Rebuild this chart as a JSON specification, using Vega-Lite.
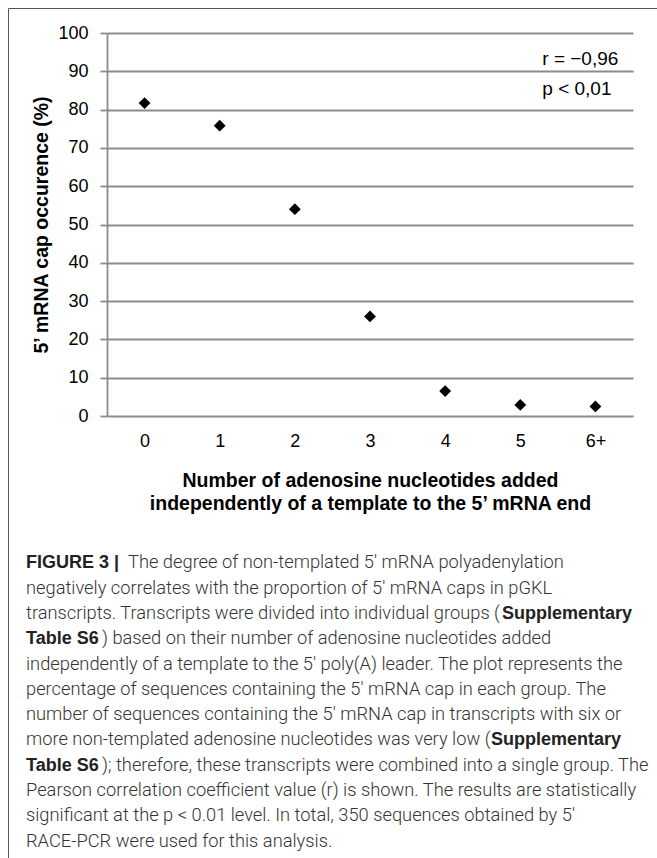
{
  "$schema": "https://vega.github.io/schema/vega-lite/v6.json",
  "autosize": {"type": "none"},
  "width": 526,
  "height": 383,
  "padding": {"left": 107, "top": 33, "right": 24, "bottom": 442},
  "background": "white",
  "config": {
    "view": {"stroke": null},
    "font": "Liberation Sans"
  },
  "resolve": {"scale": {"y": "independent"}, "axis": {"y": "independent"}},
  "layer": [
    {
      "data": {"values": [{}]},
      "mark": {"type": "rect", "fill": "white", "fillOpacity": 0, "stroke": "#555555", "strokeWidth": 1},
      "encoding": {
        "x": {"value": -98.5},
        "x2": {"value": 570},
        "y": {"value": -24.5},
        "y2": {"value": 860}
      }
    },
    {
      "data": {"values": [
        {"n": "0", "cap": 81.7},
        {"n": "1", "cap": 75.8},
        {"n": "2", "cap": 54.0},
        {"n": "3", "cap": 26.0},
        {"n": "4", "cap": 6.5},
        {"n": "5", "cap": 2.9},
        {"n": "6+", "cap": 2.5}
      ]},
      "mark": {"type": "point", "shape": "diamond", "filled": true, "color": "#000000", "size": 140, "opacity": 1},
      "encoding": {
        "x": {
          "field": "n", "type": "ordinal",
          "sort": ["0", "1", "2", "3", "4", "5", "6+"],
          "scale": {"paddingInner": 0, "paddingOuter": 0},
          "axis": {
            "labelAngle": 0, "labelFontSize": 18, "labelColor": "#000000", "labelPadding": 16,
            "ticks": false, "tickSize": 0, "domain": false, "grid": false,
            "title": ["Number of adenosine nucleotides added", "independently of a template to the 5’ mRNA end"],
            "titleFontSize": 19.5, "titleFontWeight": "bold", "titleColor": "#000000",
            "titlePadding": 21, "titleLineHeight": 23
          }
        },
        "y": {
          "field": "cap", "type": "quantitative",
          "scale": {"domain": [0, 100], "nice": false},
          "axis": {
            "values": [0, 10, 20, 30, 40, 50, 60, 70, 80, 90, 100],
            "labelOverlap": false,
            "grid": true, "gridColor": "#8c8c8c", "gridWidth": 1.8,
            "domain": true, "domainColor": "#8c8c8c", "domainWidth": 1.8,
            "ticks": true, "tickColor": "#8c8c8c", "tickWidth": 1.8, "tickSize": 7,
            "labelFontSize": 18, "labelColor": "#000000", "labelPadding": 12,
            "title": "5’ mRNA cap occurence (%)",
            "titleFontSize": 19.5, "titleFontWeight": "bold", "titleColor": "#000000",
            "titlePadding": 6
          }
        }
      }
    },
    {
      "data": {"values": [{}]},
      "mark": {"type": "text", "align": "left", "baseline": "alphabetic", "fontSize": 19, "color": "#000000", "lineHeight": 30, "dx": 22},
      "encoding": {
        "x": {"datum": "5"},
        "y": {"datum": 91.6, "type": "quantitative", "scale": {"domain": [0, 100], "nice": false}, "axis": null},
        "text": {"value": ["r = −0,96", "p < 0,01"]}
      }
    },
    {
      "data": {"values": [
        {"line": 1, "kind": "figlabel", "text": "FIGURE 3 |"},
        {"line": 1, "kind": "afterFig", "text": "The degree of non-templated 5′ mRNA polyadenylation"},
        {"line": 2, "kind": "body", "text": "negatively correlates with the proportion of 5′ mRNA caps in pGKL"},
        {"line": 3, "kind": "body", "text": "transcripts. Transcripts were divided into individual groups ("},
        {"line": 3, "kind": "refEnd3", "text": "Supplementary"},
        {"line": 4, "kind": "refStart", "text": "Table S6"},
        {"line": 4, "kind": "afterRef", "text": ") based on their number of adenosine nucleotides added"},
        {"line": 5, "kind": "body", "text": "independently of a template to the 5′ poly(A) leader. The plot represents the"},
        {"line": 6, "kind": "body", "text": "percentage of sequences containing the 5′ mRNA cap in each group. The"},
        {"line": 7, "kind": "body", "text": "number of sequences containing the 5′ mRNA cap in transcripts with six or"},
        {"line": 8, "kind": "body", "text": "more non-templated adenosine nucleotides was very low ("},
        {"line": 8, "kind": "refEnd8", "text": "Supplementary"},
        {"line": 9, "kind": "refStart", "text": "Table S6"},
        {"line": 9, "kind": "afterRef", "text": "); therefore, these transcripts were combined into a single group. The"},
        {"line": 10, "kind": "body", "text": "Pearson correlation coefficient value (r) is shown. The results are statistically"},
        {"line": 11, "kind": "body", "text": "significant at the p < 0.01 level. In total, 350 sequences obtained by 5′"},
        {"line": 12, "kind": "body", "text": "RACE-PCR were used for this analysis."}
      ]},
      "encoding": {
        "x": {"value": -81},
        "y": {"field": "line", "type": "quantitative", "scale": {"domain": [1, 12], "range": [535.3, 813.6]}, "axis": null},
        "text": {"field": "text", "type": "nominal"}
      },
      "layer": [
        {
          "transform": [{"filter": "datum.kind == 'body'"}],
          "mark": {"type": "text", "align": "left", "baseline": "alphabetic", "font": "Roboto", "fontWeight": 300, "fontSize": 18.3, "color": "#333333"}
        },
        {
          "transform": [{"filter": "datum.kind == 'figlabel' || datum.kind == 'refStart'"}],
          "mark": {"type": "text", "align": "left", "baseline": "alphabetic", "font": "Liberation Sans", "fontWeight": "bold", "fontSize": 18, "color": "#222222"}
        },
        {
          "transform": [{"filter": "datum.kind == 'afterFig'"}],
          "mark": {"type": "text", "align": "left", "baseline": "alphabetic", "font": "Roboto", "fontWeight": 300, "fontSize": 18.3, "color": "#333333", "dx": 102}
        },
        {
          "transform": [{"filter": "datum.kind == 'afterRef'"}],
          "mark": {"type": "text", "align": "left", "baseline": "alphabetic", "font": "Roboto", "fontWeight": 300, "fontSize": 18.3, "color": "#333333", "dx": 76}
        },
        {
          "transform": [{"filter": "datum.kind == 'refEnd3'"}],
          "mark": {"type": "text", "align": "left", "baseline": "alphabetic", "font": "Liberation Sans", "fontWeight": "bold", "fontSize": 18, "color": "#222222", "dx": 476}
        },
        {
          "transform": [{"filter": "datum.kind == 'refEnd8'"}],
          "mark": {"type": "text", "align": "left", "baseline": "alphabetic", "font": "Liberation Sans", "fontWeight": "bold", "fontSize": 18, "color": "#222222", "dx": 465}
        }
      ]
    }
  ]
}
